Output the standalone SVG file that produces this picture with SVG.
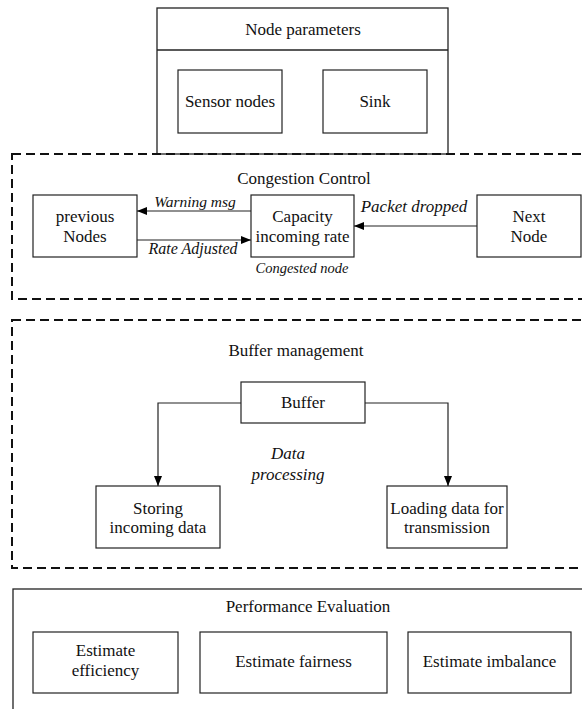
<svg xmlns="http://www.w3.org/2000/svg" width="582" height="709" viewBox="0 0 582 709">
<style>
.box{fill:#fff;stroke:#222;stroke-width:1.2}
.frame{fill:none;stroke:#222;stroke-width:1.3}
.dash{fill:none;stroke:#111;stroke-width:2;stroke-dasharray:9 5}
.t{font-family:"Liberation Serif","Times New Roman",serif;font-size:17px;fill:#111;text-anchor:middle}
.i{font-family:"Liberation Serif","Times New Roman",serif;font-style:italic;fill:#111;text-anchor:middle}
.c{fill:none;stroke:#222;stroke-width:1.2}
</style>
<defs>
<marker id="ah" viewBox="0 0 10 8" refX="10" refY="4" markerWidth="10" markerHeight="8" markerUnits="userSpaceOnUse" orient="auto">
<path d="M0,0 L10,4 L0,8 Z" fill="#000"/>
</marker>
</defs>
<rect width="582" height="709" fill="#fff"/>

<g id="node-parameters">
<rect class="frame" x="157" y="8" width="291" height="146"/>
<line class="frame" x1="157" y1="50" x2="448" y2="50"/>
<text class="t" x="303" y="35">Node parameters</text>
</g>
<g id="sensor-nodes">
<rect class="box" x="178" y="70" width="104" height="63"/>
<text class="t" x="230" y="107">Sensor nodes</text>
</g>
<g id="sink">
<rect class="box" x="323" y="70" width="104" height="63"/>
<text class="t" x="375" y="107">Sink</text>
</g>

<g id="congestion-control">
<rect class="dash" x="12" y="154" width="600" height="145"/>
<text class="t" x="304" y="184">Congestion Control</text>
</g>
<g id="previous-nodes">
<rect class="box" x="33" y="195" width="104" height="62"/>
<text class="t" x="85" y="222">previous</text>
<text class="t" x="85" y="242">Nodes</text>
</g>
<g id="capacity">
<rect class="box" x="251" y="195" width="103" height="62"/>
<text class="t" x="302.5" y="222">Capacity</text>
<text class="t" x="302.5" y="242">incoming rate</text>
<text class="i" x="302" y="273" font-size="14.5">Congested node</text>
</g>
<g id="next-node">
<rect class="box" x="477" y="195" width="104" height="62"/>
<text class="t" x="529" y="222">Next</text>
<text class="t" x="529" y="242">Node</text>
</g>

<g id="buffer-management">
<rect class="dash" x="12" y="320" width="600" height="248"/>
<text class="t" x="296" y="356">Buffer management</text>
<text class="i" x="288" y="459" font-size="17">Data</text>
<text class="i" x="288" y="480" font-size="17">processing</text>
</g>
<g id="buffer">
<rect class="box" x="241" y="382" width="124" height="41"/>
<text class="t" x="303" y="408">Buffer</text>
</g>
<g id="storing">
<rect class="box" x="96" y="486" width="124" height="62"/>
<text class="t" x="158" y="514">Storing</text>
<text class="t" x="158" y="533">incoming data</text>
</g>
<g id="loading">
<rect class="box" x="387" y="486" width="120" height="62"/>
<text class="t" x="447" y="514">Loading data for</text>
<text class="t" x="447" y="533">transmission</text>
</g>

<g id="performance-evaluation">
<rect class="frame" x="13" y="589" width="600" height="140"/>
<text class="t" x="308" y="612">Performance Evaluation</text>
</g>
<g id="estimate-efficiency">
<rect class="box" x="33" y="632" width="145" height="61"/>
<text class="t" x="105.5" y="656">Estimate</text>
<text class="t" x="105.5" y="676">efficiency</text>
</g>
<g id="estimate-fairness">
<rect class="box" x="200" y="632" width="187" height="61"/>
<text class="t" x="293.5" y="667">Estimate fairness</text>
</g>
<g id="estimate-imbalance">
<rect class="box" x="408" y="632" width="163" height="61"/>
<text class="t" x="489.5" y="667">Estimate imbalance</text>
</g>

<g id="connectors">
<line class="c" x1="251" y1="211" x2="137" y2="211" marker-end="url(#ah)"/>
<text class="i" x="195" y="207" font-size="15.5">Warning msg</text>
<line class="c" x1="137" y1="240" x2="251" y2="240" marker-end="url(#ah)"/>
<text class="i" x="193" y="254" font-size="16">Rate Adjusted</text>
<line class="c" x1="477" y1="226" x2="354" y2="226" marker-end="url(#ah)"/>
<text class="i" x="414" y="212" font-size="17">Packet dropped</text>
<path class="c" d="M241,403 H158 V486" marker-end="url(#ah)"/>
<path class="c" d="M365,403 H448 V486" marker-end="url(#ah)"/>
</g>
</svg>
